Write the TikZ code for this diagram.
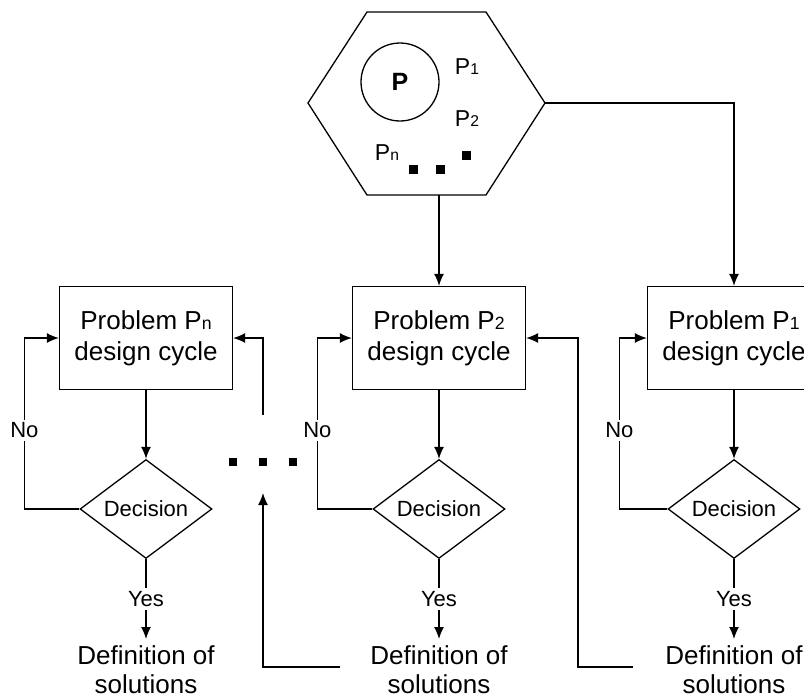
\documentclass[tikz,border=0pt]{standalone}
\usepackage{fontspec}
\setmainfont{Liberation Sans}
\usetikzlibrary{shapes, arrows.meta, positioning}
\tikzstyle{link}   = [draw, line width=0.65pt, -{Latex[length=6pt, width=5pt]}]
\tikzstyle{plain}  = [draw, line width=0.65pt]
\tikzstyle{stage}  = [draw, line width=0.65pt, rectangle, minimum width=86.5pt, minimum height=51.5pt, align=center, font=\fontsize{13}{15.5}\selectfont]
\tikzstyle{decide} = [draw, line width=0.65pt, diamond, aspect=1.33, minimum width=66pt, minimum height=49.5pt, inner sep=0pt, font=\fontsize{11}{13}\selectfont]
\tikzstyle{lbl}    = [fill=white, inner sep=1.5pt, font=\fontsize{11}{13}\selectfont]
\tikzstyle{result} = [align=center, anchor=north, inner sep=3pt, font=\fontsize{13}{14.5}\selectfont]
\tikzstyle{sq}     = [fill, inner sep=0pt, minimum size=4pt]
\newcommand{\psub}[1]{\scalebox{0.68}{#1}}

\begin{document}
\begin{tikzpicture}[x=0.5pt, y=-0.5pt]

\useasboundingbox (0,0) rectangle (804,697);
\clip (0,0) rectangle (804,697);

% hexagon
\coordinate (hexL)  at (308,103);
\coordinate (hexTL) at (367,12);
\coordinate (hexTR) at (486,12);
\coordinate (hexR)  at (545,103);
\coordinate (hexBR) at (486,195);
\coordinate (hexBL) at (367,195);
\coordinate (hexB)  at (439,195);
\draw [plain] (hexL) -- (hexTL) -- (hexTR) -- (hexR) -- (hexBR) -- (hexBL) -- cycle;

\node [plain, circle, minimum size=39pt, font=\fontsize{12.5}{15}\selectfont\bfseries] at (400,82) (P) {P};
\node [font=\fontsize{11.5}{13}\selectfont] at (467,67)  (P1) {P\psub{1}};
\node [font=\fontsize{11.5}{13}\selectfont] at (467,119) (P2) {P\psub{2}};
\node [font=\fontsize{11.5}{13}\selectfont] at (387,153) (Pn) {P\psub{n}};
\foreach \x/\y [count=\i] in {413/169, 440/169, 466/155}
  \node [sq, minimum size=4.5pt] at (\x,\y) (hd\i) {};

% design cycles
\node [stage]  at (146,338) (boxN) {Problem P\psub{n}\\design cycle};
\node [stage]  at (439,338) (box2) {Problem P\psub{2}\\design cycle};
\node [stage]  at (734,338) (box1) {Problem P\psub{1}\\design cycle};

\node [decide] at (146,509) (decN) {Decision};
\node [decide] at (439,509) (dec2) {Decision};
\node [decide] at (734,509) (dec1) {Decision};

\node [result] at (146,639) (defN) {Definition of\\solutions};
\node [result] at (439,639) (def2) {Definition of\\solutions};
\node [result] at (734,639) (def1) {Definition of\\solutions};

\foreach \x [count=\i] in {233, 263, 293}
  \node [sq] at (\x,462) (dot\i) {};

% free ends
\coordinate (fbN)    at (263,415);
\coordinate (fbM)    at (340,667);
\coordinate (fbMtip) at (263,493);
\coordinate (fb2)    at (633,667);

% edges
\path
  (hexB) edge [link] (box2)
  (boxN) edge [link] (decN)
  (box2) edge [link] (dec2)
  (box1) edge [link] (dec1)
  (decN) edge [link] node [lbl] {Yes} (defN)
  (dec2) edge [link] node [lbl] {Yes} (def2)
  (dec1) edge [link] node [lbl] {Yes} (def1);

\draw [link] (hexR) -| (box1.north);
\draw [link] (decN.west) -- ++(-55,0) |- node [lbl, pos=0.23] {No} (boxN.west);
\draw [link] (dec2.west) -- ++(-55,0) |- node [lbl, pos=0.23] {No} (box2.west);
\draw [link] (dec1.west) -- ++(-48,0) |- node [lbl, pos=0.23] {No} (box1.west);
\draw [link] (fbN) |- (boxN.east);
\draw [link] (fbM) -| (fbMtip);
\draw [link] (fb2) -- ++(-55,0) |- (box2.east);

\end{tikzpicture}
\end{document}
